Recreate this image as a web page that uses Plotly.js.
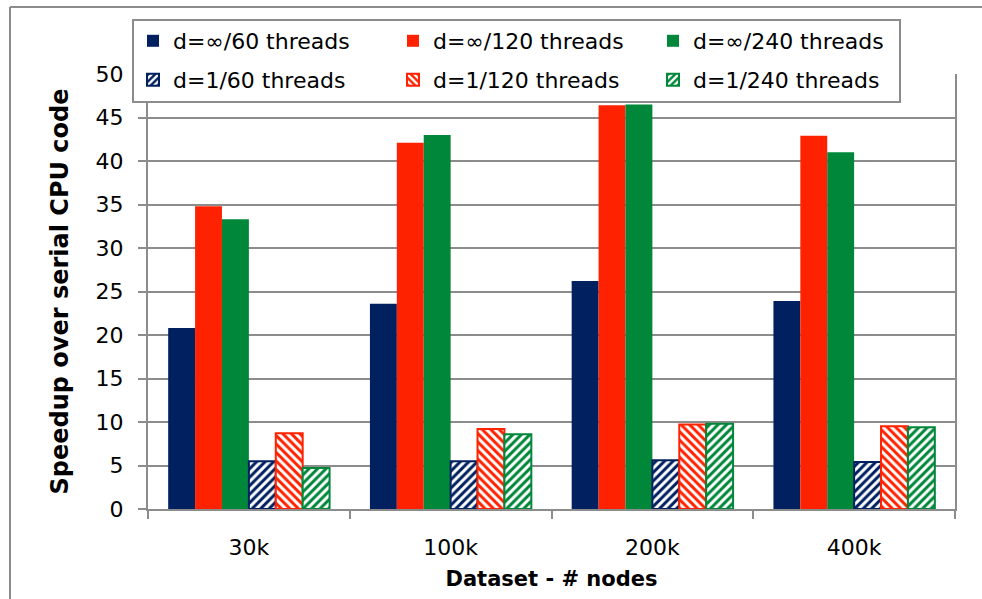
<!DOCTYPE html>
<html>
<head>
<meta charset="utf-8">
<script src="https://cdn.plot.ly/plotly-3.0.1.min.js"></script>
<style>html,body{margin:0;padding:0;background:#fff;}#chart{width:982px;height:599px;}</style>
</head>
<body>
<div id="chart"></div>
<script>
const categories = ["30k", "100k", "200k", "400k"];
const seriesNames = ["d=∞/60 threads", "d=∞/120 threads", "d=∞/240 threads",
                     "d=1/60 threads", "d=1/120 threads", "d=1/240 threads"];
const infWide60  = [20.8, 23.6, 26.2, 23.9];
const infWide120 = [34.8, 42.1, 46.4, 42.9];
const infWide240 = [33.3, 43.0, 46.5, 41.0];
const d1_60  = [5.5, 5.5, 5.6, 5.4];
const d1_120 = [8.7, 9.2, 9.7, 9.5];
const d1_240 = [4.7, 8.6, 9.8, 9.4];
const yTicks = [0, 5, 10, 15, 20, 25, 30, 35, 40, 45, 50];

const navy = "#002060", red = "#FF2200", green = "#00873A";
const grid = "#8C8C8C";
const FONT = "DejaVu Sans";

function solid(name, vals, color) {
  return {type: "bar", name: name, x: categories, y: vals, legend: "legend",
          marker: {color: color, line: {width: 0}}};
}
function hatched(name, vals, color, shape) {
  return {type: "bar", name: name, x: categories, y: vals, legend: "legend2",
          marker: {color: color, line: {color: color, width: 2},
                   pattern: {shape: shape, fgcolor: "#FFFFFF", bgcolor: color,
                             size: 6, solidity: 0.5, fillmode: "replace"}}};
}

const data = [
  solid(seriesNames[0], infWide60, navy),
  solid(seriesNames[1], infWide120, red),
  solid(seriesNames[2], infWide240, green),
  hatched(seriesNames[3], d1_60, navy, "/"),
  hatched(seriesNames[4], d1_120, red, "\\"),
  hatched(seriesNames[5], d1_240, green, "/")
];

const M = {l: 148, r: 27, t: 74, b: 90};
const W = 982, H = 599;
const pw = W - M.l - M.r, ph = H - M.t - M.b;
const px = v => (v - M.l) / pw;
const py = v => (H - M.b - v) / ph;

function legendAt(top) {
  return {
    orientation: "h", x: px(133), y: py(top), xanchor: "left", yanchor: "top",
    bgcolor: "rgba(0,0,0,0)", borderwidth: 0,
    font: {family: FONT, size: 22, color: "#000000"},
    entrywidth: 215, entrywidthmode: "pixels", tracegroupgap: 0,
    traceorder: "normal"
  };
}

const layout = {
  width: W, height: H,
  margin: {l: M.l, r: M.r, t: M.t, b: M.b, pad: 0, autoexpand: false},
  paper_bgcolor: "#FFFFFF", plot_bgcolor: "#FFFFFF",
  font: {family: FONT, color: "#000000", size: 22},
  barmode: "group", bargap: 0.2, bargroupgap: 0,
  showlegend: true,
  legend: legendAt(20),
  legend2: legendAt(59),
  xaxis: {
    type: "category", tickson: "boundaries", ticks: "outside", ticklen: 8,
    tickwidth: 2, tickcolor: grid, showline: true, linecolor: grid, linewidth: 2,
    showgrid: false, zeroline: false, ticklabelstandoff: 18,
    tickfont: {family: FONT, size: 22, color: "#000000"},
    title: {text: "Dataset - # nodes", standoff: 12,
            font: {family: FONT, size: 21, color: "#000000", weight: "bold"}}
  },
  yaxis: {
    range: [0, 50], tickvals: yTicks, ticks: "outside", ticklen: 8, tickwidth: 2,
    tickcolor: grid, showline: true, mirror: true, linecolor: grid, linewidth: 2,
    showgrid: true, gridcolor: grid, gridwidth: 2, zeroline: false,
    ticklabelstandoff: 10,
    tickfont: {family: FONT, size: 22, color: "#000000"},
    title: {text: "Speedup over serial CPU code", standoff: 20,
            font: {family: FONT, size: 24, color: "#000000", weight: "bold"}}
  },
  shapes: [
    {type: "line", xref: "paper", yref: "paper", x0: px(10), x1: px(990), y0: py(7), y1: py(7),
     line: {color: grid, width: 2}, layer: "above"},
    {type: "line", xref: "paper", yref: "paper", x0: px(10), x1: px(10), y0: py(7), y1: py(610),
     line: {color: grid, width: 2}, layer: "above"},
    {type: "rect", xref: "paper", yref: "paper", x0: px(133), x1: px(900), y0: py(20), y1: py(102),
     line: {color: grid, width: 2}, fillcolor: "#FFFFFF", layer: "above"}
  ]
};

Plotly.newPlot("chart", data, layout, {displayModeBar: false, staticPlot: true});
</script>
</body>
</html>
